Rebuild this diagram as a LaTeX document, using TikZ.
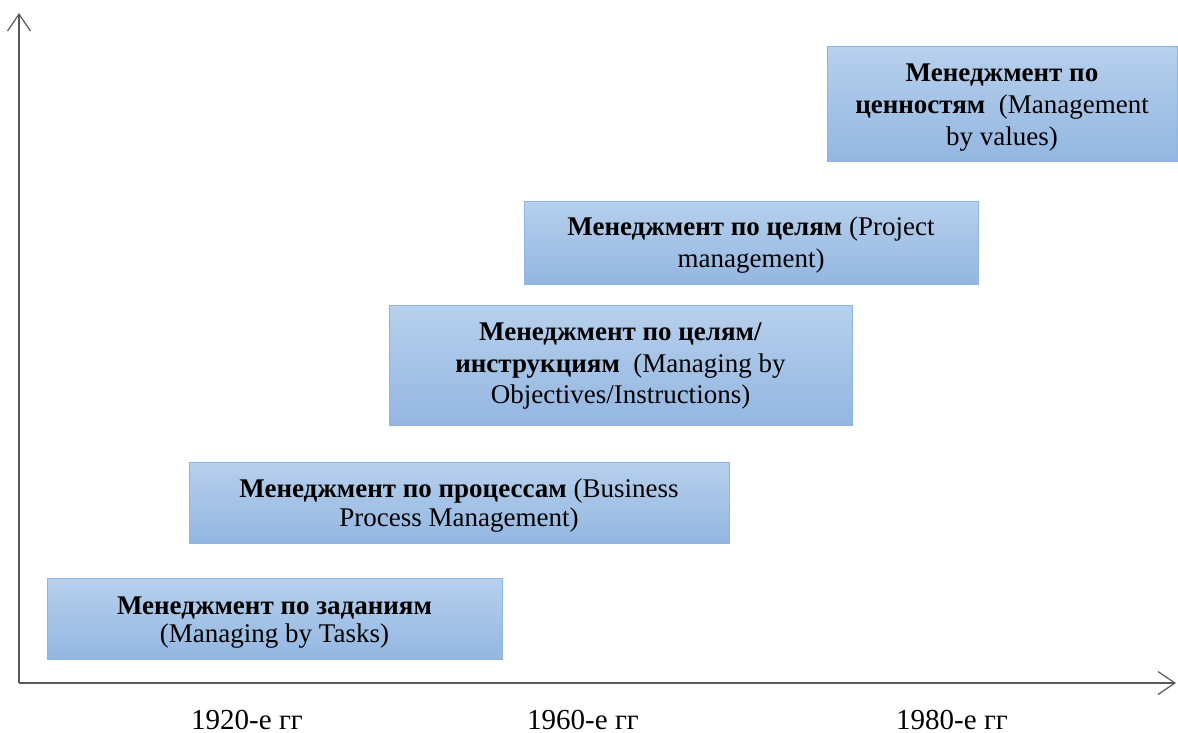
\documentclass[tikz,border=0pt]{standalone}
\usepackage{fontspec}
\setmainfont{Liberation Serif}
\usetikzlibrary{arrows.meta}
\definecolor{boxtop}{HTML}{B7D0EC}
\definecolor{boxbot}{HTML}{93B6E1}
\definecolor{boxline}{HTML}{8DB4E2}
\definecolor{axisgray}{HTML}{595959}
\tikzset{
  stagebox/.style={draw=boxline, line width=1pt, top color=boxtop, bottom color=boxbot,
    inner sep=0pt, rectangle},
  stagetext/.style={align=center, inner sep=0pt},
  axisline/.style={draw=axisgray, line width=1.2pt,
    -{Straight Barb[length=17pt, width=23pt, line width=1.2pt]}},
  yearlabel/.style={font=\fontsize{29}{32}\selectfont, anchor=base}
}
\begin{document}
\begin{tikzpicture}[x=1pt, y=-1pt]
\useasboundingbox (0,0) rectangle (1178,733);
% stages, from the earliest to the latest
\node[stagebox, minimum width=455pt, minimum height=81pt] (s1) at (274.5,619) {};
\node[stagetext, font=\fontsize{27}{28}\selectfont] (t1) at ([yshift=-4pt]s1.center)
  {\textbf{Менеджмент по заданиям}\\(Managing by Tasks)};
\node[stagebox, minimum width=540pt, minimum height=81pt] (s2) at (459,502.5) {};
\node[stagetext, font=\fontsize{27}{29}\selectfont] (t2) at ([yshift=-3pt]s2.center)
  {\textbf{Менеджмент по процессам} (Business\\Process Management)};
\node[stagebox, minimum width=463pt, minimum height=120pt] (s3) at (620.5,365) {};
\node[stagetext, font=\fontsize{27}{31.5}\selectfont] (t3) at ([yshift=-1pt]s3.center)
  {\textbf{Менеджмент по целям/}\\\textbf{инструкциям}\ \ (Managing by\\Objectives/Instructions)};
\node[stagebox, minimum width=454pt, minimum height=83pt] (s4) at (751,242.5) {};
\node[stagetext, font=\fontsize{27}{32}\selectfont] (t4) at ([yshift=-3pt]s4.center)
  {\textbf{Менеджмент по целям} (Project\\management)};
\node[stagebox, minimum width=350pt, minimum height=115pt] (s5) at (1002,104.5) {};
\node[stagetext, font=\fontsize{27}{32}\selectfont] (t5) at ([yshift=-3pt]s5.center)
  {\textbf{Менеджмент по}\\\textbf{ценностям}\ \ (Management\\by values)};
% axes
\coordinate (o) at (19,683);
\coordinate (ytop) at (19,13);
\coordinate (xend) at (1176,683);
\draw[axisline] (o) -- (ytop);
\draw[axisline] (o) -- (xend);
% years
\node[yearlabel] (y1) at (247,729) {1920-е гг};
\node[yearlabel] (y2) at (583,729) {1960-е гг};
\node[yearlabel] (y3) at (952,729) {1980-е гг};
\end{tikzpicture}
\end{document}
